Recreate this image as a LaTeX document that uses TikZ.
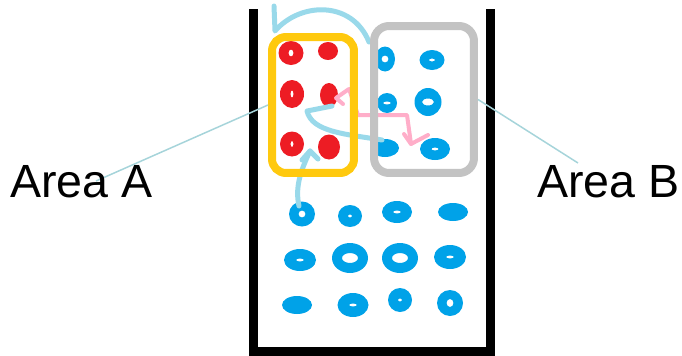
\documentclass[tikz,border=0pt]{standalone}
\usepackage{fontspec}
\setmainfont{Liberation Sans}
\usetikzlibrary{arrows.meta}
\definecolor{DotRed}    {RGB}{237, 28, 36}
\definecolor{DotBlue}   {RGB}{0,  162,232}
\definecolor{FrameGold} {RGB}{255,201, 14}
\definecolor{FrameGray} {RGB}{195,195,195}
\definecolor{FlowBlue}  {RGB}{153,217,234}
\definecolor{FlowPink}  {RGB}{255,174,201}
\definecolor{LeaderTeal}{RGB}{166,212,218}
% ring: x, y, radii, hole radii (all in px)
\newcommand{\blob}[6]{\fill[even odd rule] (#1,#2) ellipse ({#3*0.02cm} and {#4*0.02cm}) (#1,#2) ellipse ({#5*0.02cm} and {#6*0.02cm});}
\tikzset{flow/.style={line width=0.1cm,line cap=round,line join=round}}

\begin{document}
\begin{tikzpicture}[x=0.02cm,y=-0.02cm]
      \useasboundingbox (0,0) rectangle (682,355);
      \draw[line width=0.18cm] (253,9) -- (253,351) -- (490,351) -- (490,9);
      \begin{scope}[DotRed]
        \foreach \px/\py/\rx/\ry/\hx/\hy in {291/53/12.5/12/2.5/3.5, 328/51/10/9/0/0, 292/94/12/14/1.5/3.5, 329/95/9/12/0/0, 292/144/12/12.5/1.5/3, 329/147/11/12.5/0/0}
          {\blob{\px}{\py}{\rx}{\ry}{\hx}{\hy}}
      \end{scope}
      \begin{scope}[DotBlue]
        \foreach \px/\py/\rx/\ry/\hx/\hy in {385/59/10/12.5/3.5/3.5, 432/60/12.5/10/3/1.5, 387/103/10/10/4/1.5, 428/102/13.5/14/6/3.5, 385/148/14/9/0/0, 435/149/15/11/3.5/1.5,
                                      302/214/13/12.5/3.5/3.5, 350/216/12/11/2/1.5, 397/212/15/11/4/1.5, 453/212/15/9/0/0,
                                      300/260/16/11/4/1.5, 350/258/18/15/8/5, 400/258/18/15/8/5, 450/257/16/12/4/1.5,
                                      297/305/15/9/0/0, 353/305/15.5/12/4/1.5, 400/300/12/12/2/1.5, 450/303/13/13/3.5/4}
          {\blob{\px}{\py}{\rx}{\ry}{\hx}{\hy}}
      \end{scope}
      \draw[flow,FlowBlue] (369,42) .. controls (352,0) and (300,2) .. (275,31) -- (274,6);
      \draw[flow,FlowBlue] (382,140) .. controls (345,134) and (312,132) .. (307,111) -- (332,106);
      \draw[flow,FlowBlue] (299,206) .. controls (295,188) and (300,172) .. (310,151);
      \draw[flow,FlowBlue] (302,160) -- (310,151) -- (318,159);
      \draw[flow,FlowPink,line width=0.08cm] (411,144) -- (407,115) -- (358,115) -- (349,89) -- (336,98) -- (343,104);
      \draw[flow,FlowPink,line width=0.08cm] (404,134) -- (411,144) -- (428,135);
      \coordinate (tagA) at (96,181);
      \coordinate (tagB) at (578,163);
      \node[draw=FrameGold,line width=0.16cm,rounded corners=0.28cm,minimum width=1.64cm,minimum height=2.72cm] (areaAbox) at (313,105) {};
      \node[draw=FrameGray,line width=0.16cm,rounded corners=0.3cm,minimum width=2.0cm,minimum height=2.94cm] (areaBbox) at (424,99.5) {};
      \draw[LeaderTeal,line width=0.03cm] (tagA) -- (areaAbox.west);
      \draw[LeaderTeal,line width=0.03cm] (tagB) -- (areaBbox.east);
      \node[anchor=base west,inner sep=0,font=\fontsize{26.5}{30}\selectfont] (areaA) at (10,197) {Area A};
      \node[anchor=base west,inner sep=0,font=\fontsize{26.5}{30}\selectfont] (areaB) at (537,197) {Area B};
    \end{tikzpicture}
\end{document}
